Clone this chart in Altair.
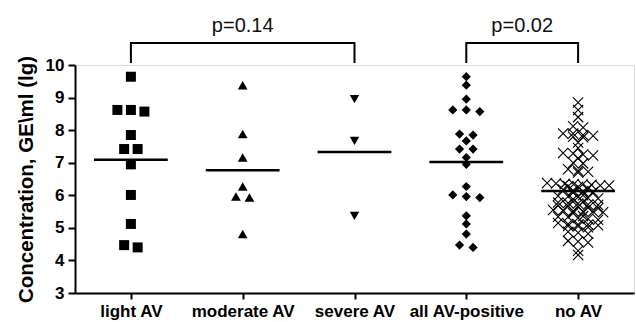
import json
import altair as alt
import pandas as pd

# ---------------- data ----------------
categories = ["light AV", "moderate AV", "severe AV", "all AV-positive", "no AV"]
light_av = [9.64, 8.62, 8.57, 8.62, 7.85, 7.42, 7.42, 6.95, 6.01, 5.12, 4.40, 4.47]
moderate_av = [9.38, 7.88, 7.16, 6.27, 5.96, 5.93, 4.81]
severe_av = [8.95, 7.67, 5.37]
no_av = [8.85, 8.62, 8.40, 8.12, 8.08,
         7.90, 7.85, 7.83, 7.80, 7.78, 7.90,
         7.62, 7.45,
         7.30, 7.28, 7.25, 7.22, 7.14,
         7.00, 6.98,
         6.80, 6.75, 6.72, 6.70,
         6.38, 6.36, 6.35, 6.34, 6.33, 6.32, 6.30, 6.30, 6.28, 6.26,
         6.20, 6.18, 6.15, 6.12, 6.10, 6.08,
         6.00, 5.98, 5.96, 5.95, 5.92, 5.90, 5.88,
         5.80, 5.78, 5.76, 5.75, 5.72,
         5.70, 5.68, 5.66, 5.65, 5.62, 5.60,
         5.55, 5.54, 5.52, 5.50, 5.50, 5.48, 5.45,
         5.36, 5.34, 5.33, 5.30, 5.28, 5.25,
         5.15, 5.12, 5.10, 5.10, 5.08, 5.06, 5.05, 5.02,
         4.88, 4.85, 4.82,
         4.60, 4.58, 4.55,
         4.30, 4.17]
all_av = light_av + moderate_av + severe_av

comparisons = [("light AV", "severe AV"), ("all AV-positive", "no AV")]
p_labels = ["p=0.14", "p=0.02"]
y_ticks = [3, 4, 5, 6, 7, 8, 9, 10]

# ---------------- layout constants ----------------
W, H = 559, 228
X_DOM = [-0.5, 4.5]
Y_DOM = [3, 10]
PX_X = W / (X_DOM[1] - X_DOM[0])
FONT = "Liberation Sans, Arial, Helvetica, sans-serif"


def swarm(values, step_px, tol, max_w_px):
    """Group close values into rows and spread each row symmetrically."""
    order = sorted(range(len(values)), key=lambda i: -values[i])
    rows = []
    for i in order:
        if rows and rows[-1][0] - values[i] <= tol:
            rows[-1][1].append(i)
        else:
            rows.append((values[i], [i]))
    offs = [0.0] * len(values)
    for _, idxs in rows:
        k = len(idxs)
        sp = step_px if (k - 1) * step_px <= max_w_px else max_w_px / (k - 1)
        for j, i in enumerate(idxs):
            offs[i] = (j - (k - 1) / 2) * sp / PX_X
    return offs


groups = [light_av, moderate_av, severe_av, all_av, no_av]
rows = []
for ci, (cat, vals) in enumerate(zip(categories, groups)):
    if cat == "no AV":
        offs = swarm(vals, 10, 0.09, 62)
    else:
        offs = swarm(vals, 13.5, 0.15, 60)
    for v, o in zip(vals, offs):
        rows.append({"category": cat, "idx": ci, "value": v, "xpos": ci + o})
df = pd.DataFrame(rows)

br_rows = []
text_rows = []
for bi, ((a, b), lab) in enumerate(zip(comparisons, p_labels)):
    xa, xb = categories.index(a), categories.index(b)
    for k, (xx, yy) in enumerate([(xa, 10.09), (xa, 10.675), (xb, 10.675), (xb, 10.09)]):
        br_rows.append({"bracket": bi, "order": k, "xpos": xx, "value": yy})
    text_rows.append({"label": lab, "xpos": (xa + xb) / 2, "value": 11.02})
br_df = pd.DataFrame(br_rows)
txt_df = pd.DataFrame(text_rows)

label_expr = json.dumps(categories) + "[datum.value]"

x_scale = alt.Scale(domain=X_DOM, nice=False, zero=False)
y_scale = alt.Scale(domain=Y_DOM, nice=False, zero=False)

x_axis = alt.Axis(values=list(range(len(categories))), labelExpr=label_expr,
                  title=None, grid=False, tickSize=6, labelPadding=4,
                  labelFontSize=17, labelFontWeight="bold", labelFont=FONT,
                  labelColor="black", domainColor="black", domainWidth=2,
                  tickColor="black", tickWidth=2, labelFlush=False,
                  labelOverlap=False)
y_axis = alt.Axis(values=y_ticks, format="d", tickCount=len(y_ticks),
                  title="Concentration, GE\\ml (lg)", titleFontSize=20.5,
                  titleFontWeight="bold", titleFont=FONT, titleColor="black",
                  titlePadding=9, grid=False, tickSize=7, labelPadding=4,
                  labelFontSize=17, labelFontWeight="bold", labelFont=FONT,
                  labelColor="black", domainColor="black", domainWidth=2,
                  tickColor="black", tickWidth=2, labelOverlap=False,
                  labelFlush=False)


def xe(field="xpos:Q"):
    return alt.X(field, scale=x_scale, axis=x_axis)


def ye(field="value:Q"):
    return alt.Y(field, scale=y_scale, axis=y_axis)


filled_cats = categories[:4]
points = alt.Chart(df).transform_filter(
    alt.FieldOneOfPredicate(field="category", oneOf=filled_cats)
).mark_point(filled=True, opacity=1, color="black").encode(
    x=xe(),
    y=ye(),
    shape=alt.Shape("category:N", legend=None,
                    scale=alt.Scale(domain=filled_cats,
                                    range=["square", "triangle-up", "triangle-down", "diamond"])),
    size=alt.Size("category:N", legend=None,
                  scale=alt.Scale(domain=filled_cats, range=[100, 85, 85, 90])),
)

xs = alt.Chart(df).transform_filter(
    alt.FieldEqualPredicate(field="category", equal="no AV")
).mark_point(shape="M-1,-1L1,1M1,-1L-1,1", filled=False, stroke="black",
             strokeWidth=1.1, size=105, opacity=1).encode(
    x=xe(),
    y=ye(),
)

means = alt.Chart(df).transform_aggregate(
    value="mean(value)", groupby=["category", "idx"]
).transform_calculate(
    xpos="datum.idx - 0.33", xend="datum.idx + 0.33"
).mark_rule(color="black", strokeWidth=2.6).encode(
    x=xe(),
    x2="xend:Q",
    y=ye(),
)

brackets = alt.Chart(br_df).mark_line(color="black", strokeWidth=2, strokeJoin="miter",
                                      strokeCap="square").encode(
    x=xe(),
    y=ye(),
    detail="bracket:N",
    order="order:Q",
)

ptext = alt.Chart(txt_df).mark_text(fontSize=20, font=FONT, color="#111",
                                    baseline="alphabetic", align="center").encode(
    x=xe(),
    y=ye(),
    text="label:N",
)

chart = alt.layer(points, xs, means, brackets, ptext).properties(
    width=W, height=H,
    padding={"left": 16, "top": 15, "right": 2, "bottom": 4},
).configure_view(stroke=None).configure_axis(labelOverlap=False).configure(background="white")

chart.save("out.html", embed_options={"renderer": "svg", "actions": False})
